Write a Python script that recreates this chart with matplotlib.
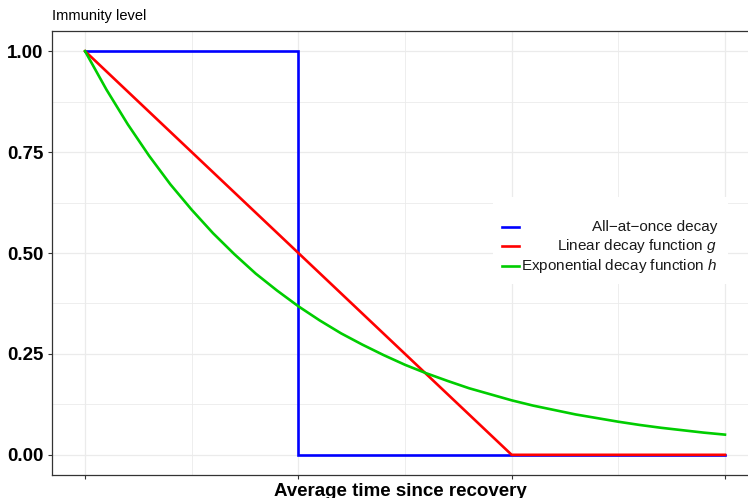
import matplotlib
matplotlib.use("Agg")
import matplotlib.pyplot as plt
from matplotlib.patches import Rectangle
from matplotlib.lines import Line2D
from matplotlib.ticker import MultipleLocator

plt.rcParams["font.family"] = ["Liberation Sans", "DejaVu Sans"]
plt.rcParams["mathtext.fontset"] = "custom"
plt.rcParams["mathtext.rm"] = "Liberation Sans"
plt.rcParams["mathtext.it"] = "Liberation Sans:italic"

# all-at-once decay (step)
step_x = [0, 1, 1, 3]
step_y = [1, 1, 0, 0]

# linear decay g
lin_x = [0, 2, 3]
lin_y = [1, 0, 0]

# exponential decay h
exp_x = [0.0, 0.1, 0.2, 0.3, 0.4, 0.5, 0.6, 0.7, 0.8, 0.9, 1.0,
         1.1, 1.2, 1.3, 1.4, 1.5, 1.6, 1.7, 1.8, 1.9, 2.0,
         2.1, 2.2, 2.3, 2.4, 2.5, 2.6, 2.7, 2.8, 2.9, 3.0]
exp_y = [1.000, 0.905, 0.819, 0.741, 0.670, 0.607, 0.549, 0.497, 0.449, 0.407, 0.368,
         0.333, 0.301, 0.273, 0.247, 0.223, 0.202, 0.183, 0.165, 0.150, 0.135,
         0.122, 0.111, 0.100, 0.091, 0.082, 0.074, 0.067, 0.061, 0.055, 0.050]

labels = ["All\u2212at\u2212once decay", "Linear decay function $g$",
          "Exponential decay function $h$"]
colors = ["#0000FF", "#FF0000", "#00CD00"]
yticks = [0.00, 0.25, 0.50, 0.75, 1.00]
xticks = [0, 1, 2, 3]

W, H = 748, 498
fig = plt.figure(figsize=(W / 100, H / 100), dpi=100)
ax = fig.add_axes([52 / W, (H - 475) / H, (W - 52) / W, (475 - 31) / H])

ax.plot(step_x, step_y, color=colors[0], lw=1.9, solid_joinstyle="miter", zorder=3)
ax.plot(lin_x, lin_y, color=colors[1], lw=1.9, zorder=3)
ax.plot(exp_x, exp_y, color=colors[2], lw=1.9, zorder=3)

ax.set_xlim(-0.155, 3.108)
ax.set_ylim(-0.05, 1.05)
ax.set_xticks(xticks)
ax.set_xticklabels([])
ax.set_yticks(yticks)
ax.set_yticklabels([f"{v:.2f}" for v in yticks], fontsize=13.5, fontweight="bold")
ax.xaxis.set_minor_locator(MultipleLocator(0.5))
ax.yaxis.set_minor_locator(MultipleLocator(0.125))
ax.tick_params(which="major", length=3, width=0.8, color="#333333", pad=3)
ax.tick_params(which="minor", length=0)
ax.grid(which="major", color="#EBEBEB", lw=0.9, zorder=0)
ax.grid(which="minor", color="#EBEBEB", lw=0.6, zorder=0)
ax.set_axisbelow(True)

for side in ["left", "bottom", "top"]:
    ax.spines[side].set_color("#333333")
    ax.spines[side].set_linewidth(0.9)
ax.spines["right"].set_visible(False)

# reference crops the descenders of this label at the bottom edge too
ax.set_xlabel("Average time since recovery", fontsize=13.5, fontweight="bold", labelpad=0)
fig.text(52 / W, (H - 16) / H, "Immunity level", fontsize=10.5, ha="left", va="center")

# legend drawn by hand so labels are right aligned
ax.add_patch(Rectangle((0.6336, 0.4302), 0.3377, 0.1959, transform=ax.transAxes,
                       facecolor="white", edgecolor="none", zorder=4))
rows = [0.5586, 0.5158, 0.4707]
for lab, col, yy in zip(labels, colors, rows):
    ax.add_line(Line2D([0.6466, 0.6710], [yy, yy], transform=ax.transAxes,
                       color=col, lw=1.9, zorder=5))
    ax.text(0.9555, yy, lab, transform=ax.transAxes, ha="right", va="center",
            fontsize=11, color="#1A1A1A", zorder=5)

fig.savefig("out.png", dpi=100)
